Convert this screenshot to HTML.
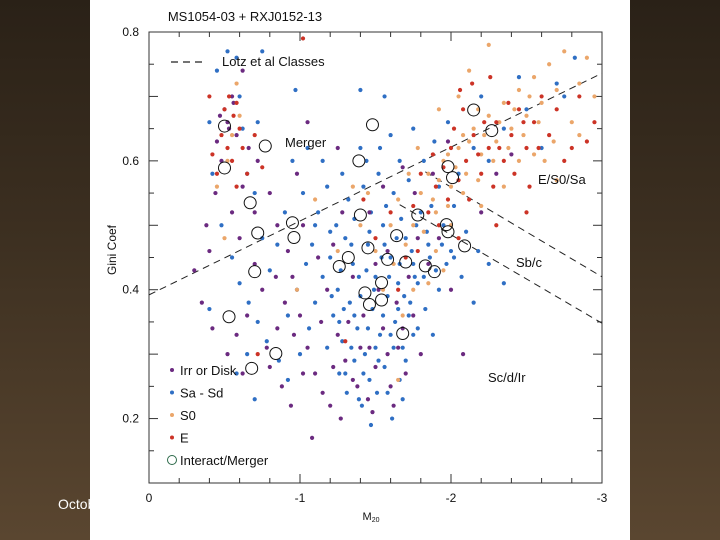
<!DOCTYPE html>
<html><head><meta charset="utf-8"><style>
html,body{margin:0;padding:0;}
body{width:720px;height:540px;overflow:hidden;background:linear-gradient(180deg,#2a2117 0%,#3d3021 45%,#5a4630 100%);font-family:"Liberation Sans",sans-serif;position:relative;}
#octo{position:absolute;left:58px;top:496px;color:#fff;font-size:14px;}
#panel{position:absolute;left:90px;top:0;width:540px;height:540px;background:#fff;}
svg{position:absolute;left:0;top:0;}
</style></head><body>
<div id="octo">October</div>
<div id="panel"></div>
<svg id="chart" width="720" height="540" font-family="Liberation Sans, sans-serif"></svg>
<script>
const xTicks=[0,-1,-2,-3];
const yTicks=[0.2,0.4,0.6,0.8];
const irr=[-0.45,0.63,-0.50,0.68,-0.52,0.66,-0.55,0.70,-0.58,0.64,-0.48,0.60,-0.62,0.56,-0.55,0.52,-0.40,0.46,-0.60,0.48,-0.70,0.44,-0.75,0.40,-0.65,0.36,-0.58,0.33,-0.52,0.30,-0.62,0.27,-0.78,0.31,-0.85,0.34,-0.90,0.38,-0.95,0.42,-1.00,0.36,-1.05,0.31,-1.10,0.27,-1.15,0.24,-1.20,0.22,-1.25,0.33,-1.30,0.29,-1.35,0.26,-1.40,0.31,-1.45,0.23,-1.50,0.28,-1.55,0.34,-1.60,0.25,-1.65,0.31,-1.70,0.27,-1.75,0.36,-1.80,0.30,-0.30,0.43,-0.35,0.38,-0.42,0.34,-0.88,0.25,-0.94,0.22,-1.08,0.17,-1.27,0.20,-1.48,0.21,-1.62,0.22,-0.72,0.60,-0.80,0.55,-0.85,0.50,-0.92,0.46,-1.02,0.50,-1.12,0.45,-1.18,0.40,-1.22,0.47,-1.28,0.52,-1.35,0.42,-1.42,0.36,-1.52,0.40,-1.58,0.46,-1.64,0.38,-1.72,0.42,-1.85,0.44,-1.92,0.48,-2.00,0.40,-2.08,0.30,-2.20,0.52,-2.30,0.58,-2.40,0.61,-1.98,0.63,-1.88,0.58,-1.76,0.55,-1.68,0.59,-1.55,0.56,-1.25,0.62,-0.98,0.58,-1.05,0.66,-0.62,0.74,-0.56,0.69,-0.53,0.65,-0.47,0.67,-0.66,0.62,-0.44,0.55,-0.38,0.50,-0.70,0.52,-0.84,0.42,-0.96,0.33,-1.14,0.35,-1.32,0.35,-1.46,0.31,-1.38,0.25,-1.58,0.30,-1.68,0.34,-1.50,0.44,-1.78,0.48,-1.46,0.52,-1.22,0.28,-1.02,0.27,-0.80,0.28];
const sasd=[-1.20,0.45,-1.25,0.40,-1.30,0.48,-1.35,0.44,-1.40,0.39,-1.45,0.47,-1.50,0.42,-1.55,0.50,-1.60,0.45,-1.65,0.41,-1.70,0.48,-1.75,0.44,-1.80,0.52,-1.85,0.47,-1.90,0.43,-1.95,0.50,-2.00,0.46,-1.22,0.36,-1.28,0.32,-1.33,0.38,-1.38,0.34,-1.43,0.30,-1.48,0.37,-1.53,0.33,-1.58,0.39,-1.63,0.35,-1.68,0.31,-1.73,0.38,-1.78,0.41,-1.26,0.27,-1.36,0.29,-1.46,0.26,-1.56,0.28,-1.66,0.26,-1.41,0.22,-1.51,0.24,-1.61,0.20,-1.31,0.24,-1.15,0.42,-1.10,0.38,-1.08,0.47,-1.12,0.52,-1.18,0.56,-1.32,0.54,-1.42,0.56,-1.52,0.58,-1.62,0.55,-1.72,0.57,-1.82,0.60,-1.92,0.56,-2.02,0.53,-2.10,0.49,-2.18,0.46,-2.05,0.58,-2.15,0.62,-2.25,0.60,-2.35,0.65,-2.50,0.68,-2.70,0.72,-2.82,0.76,-2.20,0.70,-2.45,0.73,-1.98,0.66,-1.60,0.64,-1.56,0.70,-1.40,0.62,-1.28,0.58,-1.02,0.55,-0.95,0.60,-0.90,0.52,-0.85,0.47,-0.80,0.43,-0.75,0.48,-0.70,0.55,-0.65,0.58,-0.62,0.65,-0.60,0.70,-0.58,0.76,-0.52,0.77,-0.45,0.74,-0.40,0.66,-0.42,0.58,-0.48,0.50,-0.55,0.45,-0.60,0.41,-0.66,0.38,-0.72,0.35,-0.78,0.32,-0.86,0.29,-0.92,0.36,-0.98,0.40,-1.04,0.44,-1.06,0.34,-1.00,0.30,-0.92,0.26,-0.70,0.23,-0.58,0.27,-0.65,0.30,-0.40,0.37,-1.18,0.31,-1.24,0.50,-1.36,0.51,-1.47,0.52,-1.57,0.53,-1.67,0.51,-1.77,0.50,-1.87,0.53,-1.97,0.44,-2.07,0.42,-2.15,0.38,-2.25,0.44,-2.35,0.41,-1.83,0.37,-1.88,0.33,-1.78,0.34,-1.70,0.29,-1.62,0.31,-1.52,0.29,-1.42,0.27,-1.34,0.31,-1.27,0.43,-1.21,0.39,-1.34,0.47,-1.44,0.43,-1.54,0.45,-1.64,0.48,-1.74,0.46,-1.84,0.49,-1.94,0.47,-1.49,0.40,-1.59,0.42,-1.69,0.39,-1.39,0.42,-1.29,0.37,-1.45,0.34,-1.55,0.36,-1.65,0.37,-1.75,0.33,-1.58,0.24,-1.47,0.19,-1.68,0.23,-1.39,0.23,-1.30,0.27,-1.50,0.31,-1.60,0.33,-1.72,0.36,-1.82,0.42,-1.92,0.40,-2.02,0.45,-1.46,0.49,-1.56,0.47,-1.66,0.44,-1.76,0.42,-1.86,0.45,-1.36,0.36,-1.26,0.35,-1.20,0.49,-1.10,0.50,-1.15,0.60,-1.05,0.62,-0.97,0.71,-0.75,0.77,-0.72,0.66,-1.40,0.71,-1.75,0.65,-2.60,0.62,-2.75,0.70,-1.89,0.63,-1.66,0.60,-1.44,0.60,-1.53,0.62];
const s0=[-1.80,0.55,-1.85,0.58,-1.90,0.52,-1.95,0.60,-2.00,0.56,-2.05,0.62,-2.10,0.58,-2.15,0.65,-2.20,0.61,-2.25,0.67,-2.30,0.63,-2.35,0.69,-2.40,0.65,-2.45,0.71,-2.50,0.67,-2.55,0.73,-2.60,0.69,-2.65,0.75,-2.70,0.71,-2.75,0.77,-2.80,0.66,-2.85,0.72,-2.90,0.76,-2.95,0.70,-1.75,0.50,-1.70,0.47,-1.82,0.49,-1.88,0.54,-1.92,0.57,-1.98,0.53,-2.03,0.59,-2.08,0.55,-2.12,0.63,-2.18,0.57,-2.22,0.64,-2.28,0.60,-2.32,0.66,-2.38,0.62,-2.42,0.68,-2.48,0.64,-2.52,0.70,-2.58,0.66,-2.62,0.60,-2.68,0.63,-2.05,0.70,-2.12,0.74,-2.25,0.78,-1.92,0.68,-1.78,0.62,-1.72,0.58,-1.65,0.54,-1.60,0.50,-1.62,0.44,-1.55,0.40,-1.68,0.36,-1.50,0.46,-1.45,0.55,-1.40,0.50,-1.90,0.46,-2.00,0.50,-2.20,0.53,-2.35,0.56,-2.45,0.60,-2.55,0.61,-2.70,0.57,-2.85,0.64,-1.98,0.61,-2.08,0.64,-2.18,0.68,-0.55,0.64,-0.52,0.60,-0.45,0.56,-0.58,0.72,-0.60,0.67,-0.50,0.48,-0.98,0.40,-1.25,0.46,-1.35,0.56,-1.10,0.54,-1.85,0.41,-1.75,0.40,-1.65,0.26,-1.95,0.43];
const ell=[-1.90,0.56,-1.95,0.59,-2.00,0.62,-2.05,0.57,-2.10,0.60,-2.15,0.64,-2.20,0.58,-2.25,0.62,-2.30,0.66,-2.35,0.60,-2.40,0.64,-2.45,0.68,-2.50,0.62,-2.55,0.66,-2.60,0.70,-2.65,0.64,-2.70,0.68,-2.80,0.62,-2.85,0.70,-2.95,0.66,-1.85,0.52,-1.92,0.50,-1.98,0.54,-2.02,0.65,-2.08,0.68,-2.12,0.54,-2.18,0.61,-2.22,0.66,-2.28,0.56,-2.32,0.62,-2.38,0.69,-2.42,0.58,-2.48,0.66,-2.52,0.56,-2.58,0.62,-1.88,0.61,-1.80,0.58,-1.75,0.53,-2.06,0.71,-2.14,0.72,-2.26,0.73,-0.50,0.68,-0.53,0.70,-0.56,0.67,-0.58,0.69,-0.60,0.65,-0.48,0.64,-0.52,0.62,-0.55,0.60,-0.62,0.62,-0.65,0.58,-0.45,0.58,-0.58,0.56,-0.42,0.61,-0.70,0.64,-0.40,0.70,-0.75,0.59,-1.42,0.54,-1.50,0.48,-1.60,0.52,-1.70,0.45,-1.78,0.46,-2.05,0.48,-2.30,0.50,-2.50,0.52,-2.75,0.60,-2.90,0.63,-1.65,0.40,-1.30,0.32,-0.72,0.30,-1.02,0.79];
const mergers=[-0.50,0.654,-1.48,0.656,-0.77,0.623,-1.39,0.600,-2.15,0.679,-2.27,0.647,-1.98,0.591,-2.01,0.574,-1.78,0.516,-1.97,0.501,-1.98,0.490,-2.09,0.468,-0.67,0.535,-0.95,0.504,-0.96,0.481,-0.72,0.488,-1.40,0.516,-1.64,0.484,-1.45,0.465,-0.70,0.428,-1.26,0.436,-1.32,0.450,-1.58,0.447,-1.70,0.443,-1.83,0.437,-1.89,0.428,-1.43,0.395,-1.46,0.377,-1.54,0.384,-1.54,0.411,-1.68,0.332,-0.53,0.358,-0.84,0.301,-0.68,0.278,-0.50,0.589];
const classLines=[[0,0.392,-3,0.736],[-1.83,0.583,-3,0.420],[-1.66,0.532,-3,0.348]];

const svg=document.getElementById('chart');
const NS='http://www.w3.org/2000/svg';
const X0=149,X1=602,Y0=32,Y1=483;
function sx(m){return X0+(m/-3)*(X1-X0);}
function sy(g){return Y0+(0.8-g)/0.7*(Y1-Y0);}
function mk(t,a){const e=document.createElementNS(NS,t);for(const k in a)e.setAttribute(k,a[k]);svg.appendChild(e);return e;}
function txt(s,x,y,size,anchor){const e=mk('text',{x:x,y:y,'font-size':size,fill:'#111','text-anchor':anchor||'start'});e.textContent=s;return e;}

let f=mk('rect',{x:X0,y:Y0,width:X1-X0,height:Y1-Y0,fill:'none',stroke:'#333','stroke-width':1});


for(let i=0;i<=15;i++){const m=-i*0.2;const x=sx(m);const len=(i%5==0)?9:5;
 let t=mk('line',{x1:x,x2:x,y1:Y1,y2:Y1-len,stroke:'#333'});
 let t2=mk('line',{x1:x,x2:x,y1:Y0,y2:Y0+len,stroke:'#333'});}
for(let i=0;i<=14;i++){const g=0.1+i*0.05;const y=sy(g);const len=(Math.round(g*100)%10==0)?9:5;
 let t=mk('line',{x1:X0,x2:X0+len,y1:y,y2:y,stroke:'#333'});
 let t2=mk('line',{x1:X1,x2:X1-len,y1:y,y2:y,stroke:'#333'});}
xTicks.forEach(v=>{let e=txt(v===0?'0':String(v),sx(v),502,12,'middle');});
yTicks.forEach(v=>{let e=txt(v.toFixed(1),139,sy(v)+4,12,'end');});

classLines.forEach(l=>{let e=mk('line',{x1:sx(l[0]),y1:sy(l[1]),x2:sx(l[2]),y2:sy(l[3]),stroke:'#222','stroke-width':1,'stroke-dasharray':'7,5'});});

function dots(arr,color,name){for(let i=0;i<arr.length;i+=2){let c=mk('circle',{cx:sx(arr[i]),cy:sy(arr[i+1]),r:2.1,fill:color});}}
dots(sasd,'#2f6fc4','point-sa-sd');
dots(irr,'#6b2a80','point-irr-disk');
dots(s0,'#eba66a','point-s0');
dots(ell,'#cc3326','point-e');
for(let i=0;i<mergers.length;i+=2){let c=mk('circle',{cx:sx(mergers[i]),cy:sy(mergers[i+1]),r:6,fill:'none',stroke:'#111','stroke-width':1});}

let t;
t=txt('MS1054-03 + RXJ0152-13',245,21,13,'middle');
t=mk('line',{x1:171,x2:205,y1:62,y2:62,stroke:'#222','stroke-width':1.3,'stroke-dasharray':'7,5'});
t=txt('Lotz et al Classes',222,66,13);
t=txt('Merger',285,147,13);
t=txt('E/S0/Sa',538,184,13);
t=txt('Sb/c',516,267,13);
t=txt('Sc/d/Ir',488,382,13);
t=txt('Gini Coef',0,0,12,'middle');t.setAttribute('transform','translate(116,250) rotate(-90)');
t=txt('M',371,520,11,'middle');
const sub=document.createElementNS(NS,'tspan');sub.setAttribute('font-size','7');sub.setAttribute('dy','2');sub.textContent='20';t.appendChild(sub);

const leg=[['Irr or Disk','#6b2a80'],['Sa - Sd','#2f6fc4'],['S0','#eba66a'],['E','#cc3326']];
leg.forEach((l,i)=>{const y=370+i*22.5;
 let c=mk('circle',{cx:172,cy:y,r:2,fill:l[1]});
 let e=txt(l[0],180,y+5,13);});
t=mk('circle',{cx:172,cy:460,r:4.5,fill:'none',stroke:'#2d6a4a','stroke-width':1});
t=txt('Interact/Merger',180,465,13);
</script>
</body></html>
